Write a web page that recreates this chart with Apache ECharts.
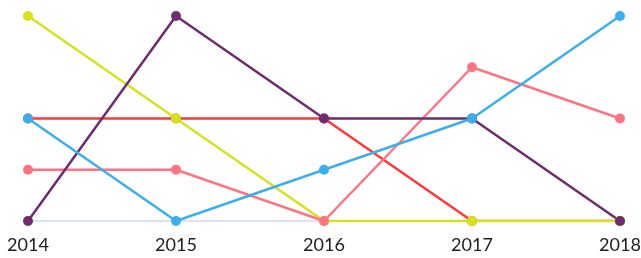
<!DOCTYPE html>
<html>
<head>
<meta charset="utf-8">
<script src="https://cdn.jsdelivr.net/npm/echarts@6/dist/echarts.min.js"></script>
<style>
html,body{margin:0;padding:0;background:#fff;}
#chart{width:641px;height:258px;}
</style>
</head>
<body>
<div id="chart"></div>
<script>
var years=['2014','2015','2016','2017','2018'];
var redVals=[2,2,2,0,0];
var yellowVals=[4,2,0,0,0];
var pinkVals=[1,1,0,3,2];
var purpleVals=[0,4,2,2,0];
var blueVals=[2,0,1,2,4];

function line(name,data,color){
    return {
        name:name,
        type:'line',
        data:data,
        symbol:'circle',
        symbolSize:10,
        itemStyle:{color:color},
        lineStyle:{color:color,width:2.5},
        animation:false
    };
}

var chart=echarts.init(document.getElementById('chart'));
chart.setOption({
    grid:{left:28,right:21,top:16,bottom:37,outerBoundsMode:'none'},
    xAxis:{
        type:'category',
        data:years,
        boundaryGap:false,
        axisLine:{lineStyle:{color:'#d3d7ef',width:1.5}},
        axisTick:{show:false},
        axisLabel:{color:'#222',fontSize:18,fontFamily:'Lato',margin:15}
    },
    yAxis:{
        type:'value',
        min:0,max:4,interval:1,
        show:false
    },
    series:[
        line('red',redVals,'#ff3838'),
        line('yellow',yellowVals,'#d5e21c'),
        line('pink',pinkVals,'#ff7482'),
        line('purple',purpleVals,'#6e2c6e'),
        line('blue',blueVals,'#3caeec')
    ]
});
</script>
</body>
</html>
